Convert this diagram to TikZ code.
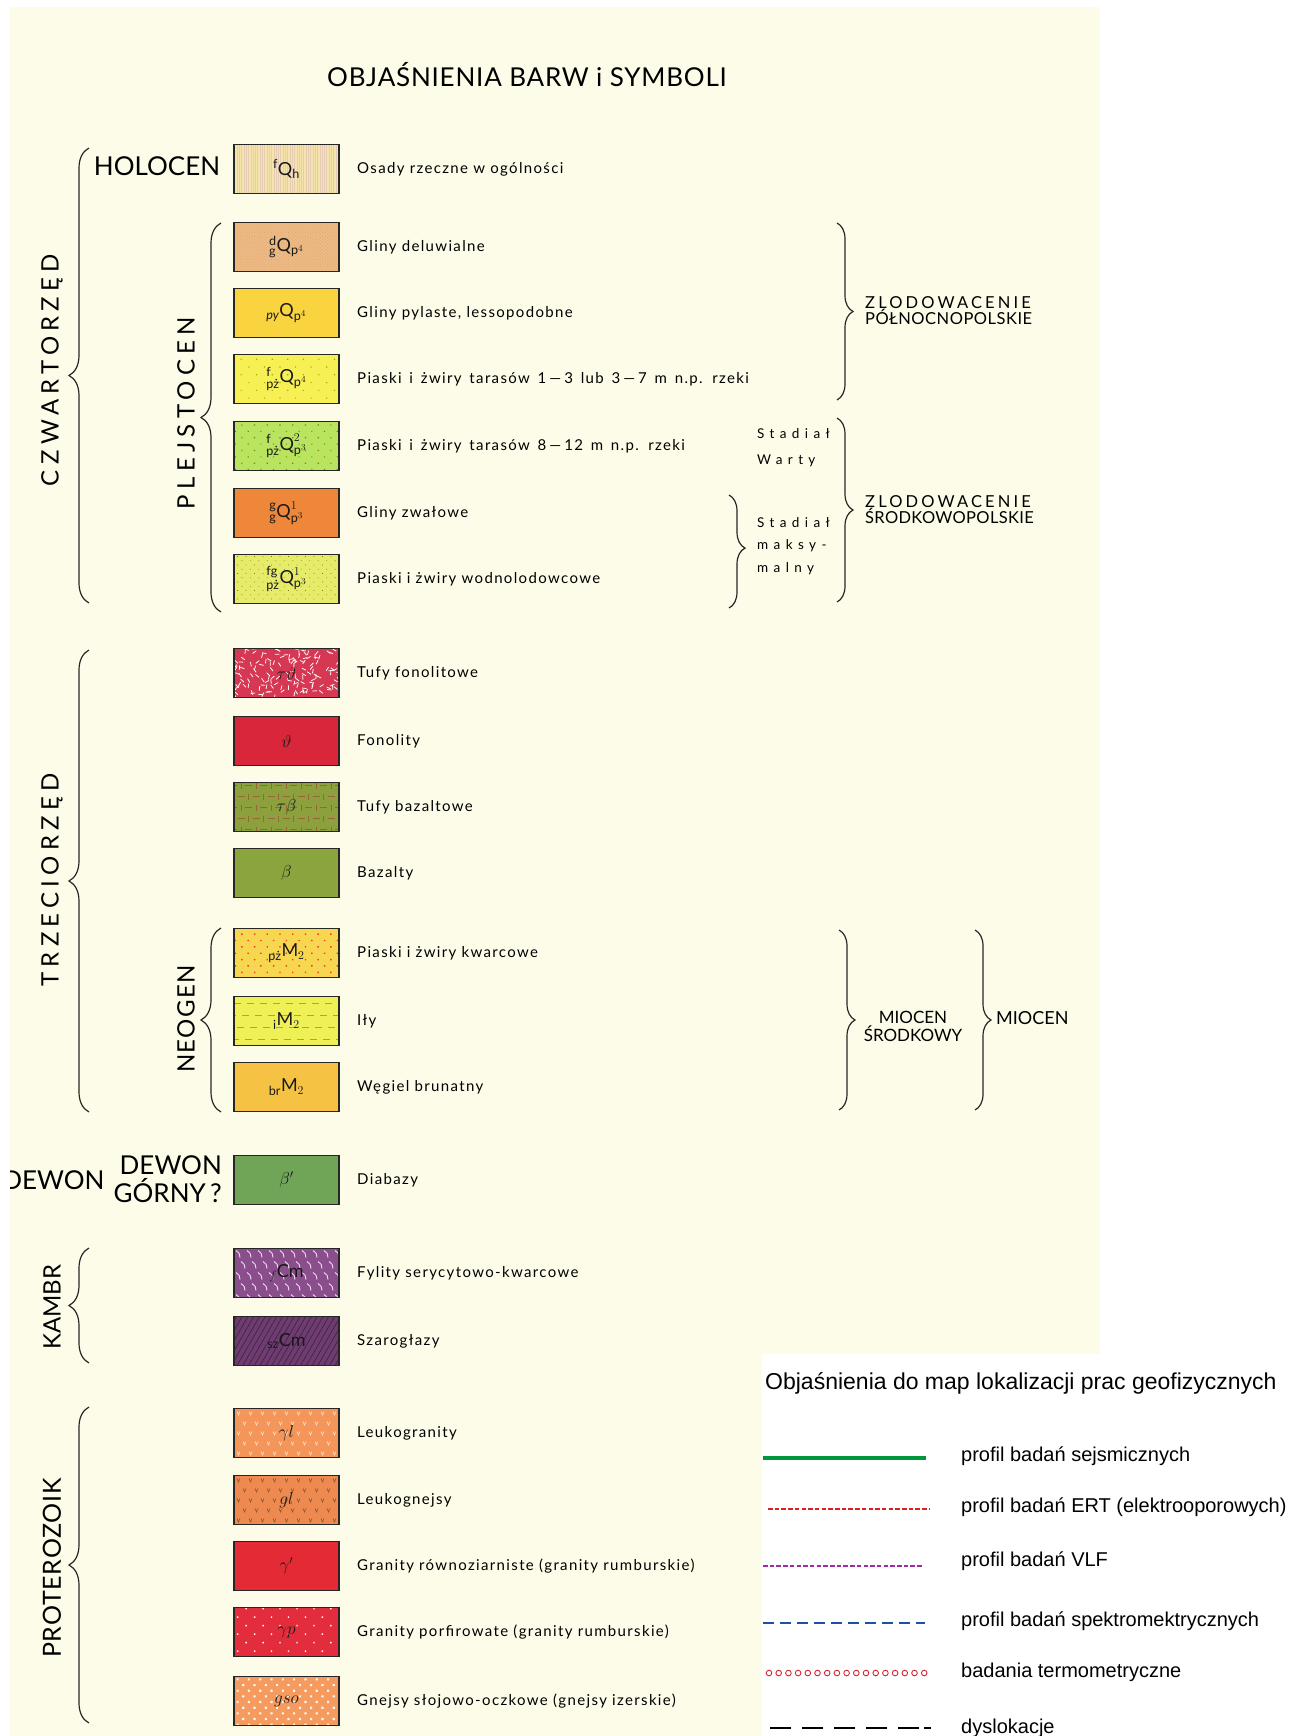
\documentclass[tikz,border=0pt]{standalone}
\usepackage{amsmath}
\usepackage{fontspec}
\setmainfont{Lato}
\newfontfamily\capsfont[LetterSpace=22]{Lato}
\newfontfamily\descfont[LetterSpace=9]{Lato}
\newfontfamily\glacfont[LetterSpace=19]{Lato}
\newfontfamily\stadfont[LetterSpace=40]{Lato}
\newfontfamily\arialfont{Liberation Sans}
\usetikzlibrary{decorations.pathreplacing,patterns.meta}

\definecolor{cream}{RGB}{253,252,232}
\definecolor{holo}{RGB}{245,228,172}
\definecolor{delu}{RGB}{238,185,130}
\definecolor{pyla}{RGB}{250,212,62}
\definecolor{tarA}{RGB}{247,240,85}
\definecolor{tarB}{RGB}{185,228,95}
\definecolor{zwal}{RGB}{238,135,58}
\definecolor{wodn}{RGB}{230,236,105}
\definecolor{tufo}{RGB}{214,55,82}
\definecolor{fono}{RGB}{218,38,58}
\definecolor{tuba}{RGB}{140,160,62}
\definecolor{baza}{RGB}{138,165,62}
\definecolor{kwar}{RGB}{248,215,80}
\definecolor{ily}{RGB}{238,240,85}
\definecolor{wegl}{RGB}{246,194,68}
\definecolor{diab}{RGB}{112,165,88}
\definecolor{fyli}{RGB}{138,78,140}
\definecolor{szar}{RGB}{110,60,112}
\definecolor{leug}{RGB}{244,150,90}
\definecolor{leun}{RGB}{238,138,80}
\definecolor{grar}{RGB}{228,42,52}
\definecolor{grap}{RGB}{228,45,60}
\definecolor{gnej}{RGB}{246,155,95}
\definecolor{seis}{RGB}{0,150,60}
\definecolor{ert}{RGB}{225,30,30}
\definecolor{vlf}{RGB}{160,40,170}
\definecolor{spek}{RGB}{30,80,170}
\definecolor{term}{RGB}{215,40,50}

\tikzset{
  swatch/.style={draw=black!85,line width=1.1pt,minimum width=105pt,minimum height=49pt,
    inner sep=0pt,text=black!90,font=\fontsize{18}{18}\selectfont},
  desc/.style={anchor=west,inner sep=0pt,font=\descfont\fontsize{15}{18}\selectfont},
  era/.style={rotate=90,inner sep=0pt,font=\capsfont\fontsize{24}{24}\selectfont},
  curly/.style={decorate,decoration={brace,amplitude=#1},line width=1.2pt,draw=black!85},
  legtext/.style={anchor=west,inner sep=0pt,font=\arialfont\fontsize{20}{20}\selectfont},
  % patterns of the swatches
  finelines/.style={pattern={Lines[angle=90,distance=2.3pt,line width=0.4pt]},pattern color=#1},
  dotgrid/.style args={#1/#2/#3}{pattern={Dots[distance=#1,radius=#2,angle=45]},pattern color=#3},
  difflines/.style={pattern={Lines[angle=60,distance=5pt,line width=0.6pt]},pattern color=#1},
  tuffpat/.style={path picture={
    \coordinate (pp) at (path picture bounding box.north west);
    \pgfmathsetseed{11}
    \foreach \i in {1,...,150}{
      \pgfmathsetmacro{\px}{rnd*108}
      \pgfmathsetmacro{\py}{rnd*52}
      \pgfmathsetmacro{\pa}{rnd*180}
      \draw[#1,line width=0.8pt] ([shift={(\px,\py)}]pp) -- ++(\pa:4.5);}}},
  basaltpat/.style={path picture={
    \coordinate (pp) at (path picture bounding box.north west);
    \foreach \r in {0,...,4}{\foreach \c in {0,...,7}{
      \pgfmathsetmacro{\xx}{\c*15+mod(\r,2)*7.5-4}
      \draw[#1,line width=0.8pt] ([shift={(\xx,\r*11+3)}]pp) -- ++(7,0);
      \draw[#1,line width=0.8pt] ([shift={(\xx+11,\r*11)}]pp) -- ++(0,6);}}}},
  claypat/.style={path picture={
    \coordinate (pp) at (path picture bounding box.north west);
    \foreach \r in {0,...,3}
      \draw[#1,line width=0.6pt,dash pattern=on 7pt off 6pt] ([shift={(-\r*5,\r*12+7)}]pp) -- ++(120,0);}},
  phylpat/.style={path picture={
    \coordinate (pp) at (path picture bounding box.north west);
    \foreach \r in {0,...,4}{\foreach \c in {0,...,9}{
      \draw[#1,line width=0.9pt] ([shift={({\c*11+2+mod(\r,2)*5},{\r*11+2})}]pp) to[bend left=35] ++(4,7);}}}},
  vpat/.style={path picture={
    \coordinate (pp) at (path picture bounding box.north west);
    \foreach \r in {0,...,4}{\foreach \c in {0,...,8}{
      \draw[#1,line width=0.6pt] ([shift={({\c*12+3+mod(\r,2)*6},{\r*10+3})}]pp) -- ++(1.5,3.5) -- ++(1.5,-3.5);}}}}
}

% one row of the legend: name, y, looks, symbol, text
\newcommand{\layer}[5]{%
  \node[swatch,#3] (#1) at (286.5,#2) {#4};
  \node[desc] (#1d) at (357,#2) {#5};}
\newcommand{\dsh}{\hspace{3pt}—\hspace{3pt}}
\newcommand{\wide}{\spaceskip=7.8pt plus 1pt\relax}

\begin{document}
\begin{tikzpicture}[x=1pt,y=-1pt]
\useasboundingbox (0,0) rectangle (1300,1736);
\fill[white] (0,0) rectangle (1300,1736);
\fill[cream] (10,7) rectangle (1100,1736);

\node[font=\fontsize{26}{26}\selectfont\addfontfeature{LetterSpace=3}] (title) at (527,75) {OBJAŚNIENIA BARW i SYMBOLI};

% czwartorzed
\layer{s1}{169}{preaction={fill=holo},finelines=brown!40}{${}^{\text{f}}\text{Q}_{\text{h}}$}{Osady rzeczne w ogólności}
\layer{s2}{247}{preaction={fill=delu},dotgrid=2.4pt/0.5pt/brown!70}{${}^{\text{d}}_{\text{g}}\text{Q}_{\text{p}^4}$}{Gliny deluwialne}
\layer{s3}{313}{fill=pyla}{${}_{\textit{py}}\text{Q}_{\text{p}^4}$}{Gliny pylaste, lessopodobne}
\layer{s4}{379}{preaction={fill=tarA},dotgrid=11pt/0.8pt/olive!70}{${}^{\text{f}}_{\text{pż}}\text{Q}_{\text{p}^4}$}{\wide Piaski i żwiry tarasów 1\dsh3 lub 3\dsh7 m n.p. rzeki}
\layer{s5}{446}{preaction={fill=tarB},dotgrid=9pt/0.8pt/olive}{${}^{\text{f}}_{\text{pż}}\text{Q}^{2}_{\text{p}^3}$}{\wide Piaski i żwiry tarasów 8\dsh12 m n.p. rzeki}
\layer{s6}{513}{fill=zwal}{${}^{\text{g}}_{\text{g}}\text{Q}^{1}_{\text{p}^3}$}{Gliny zwałowe}
\layer{s7}{579}{preaction={fill=wodn},dotgrid=6pt/0.6pt/olive}{${}^{\text{fg}}_{\text{pż}}\text{Q}^{1}_{\text{p}^3}$}{Piaski i żwiry wodnolodowcowe}

% trzeciorzed
\layer{s8}{673}{fill=tufo,tuffpat=white!85!pink}{$\tau\vartheta$}{Tufy fonolitowe}
\layer{s9}{741}{fill=fono}{$\vartheta$}{Fonolity}
\layer{s10}{807}{fill=tuba,basaltpat={brown!80!black}}{$\tau\beta$}{Tufy bazaltowe}
\layer{s11}{873}{fill=baza}{$\beta$}{Bazalty}
\layer{s12}{953}{preaction={fill=kwar},dotgrid=9pt/1pt/red!80}{${}_{\text{pż}}\text{M}_2$}{Piaski i żwiry kwarcowe}
\layer{s13}{1021}{fill=ily,claypat={green!50!black!55}}{${}_{\text{i}}\text{M}_2$}{Iły}
\layer{s14}{1087}{fill=wegl}{${}_{\text{br}}\text{M}_2$}{Węgiel brunatny}

% starsze
\layer{s15}{1180}{fill=diab}{$\beta'$}{Diabazy}
\layer{s16}{1273}{fill=fyli,phylpat=white!85!violet}{${}_{f}\text{Cm}$}{Fylity serycytowo-kwarcowe}
\layer{s17}{1341}{preaction={fill=szar},difflines=black!45!szar}{${}_{\text{sz}}\text{Cm}$}{Szarogłazy}
\layer{s18}{1433}{fill=leug,vpat=white!70!leug}{$\gamma l$}{Leukogranity}
\layer{s19}{1500}{fill=leun,vpat=brown!70!black}{$gl$}{Leukognejsy}
\layer{s20}{1566}{fill=grar}{$\gamma'$}{Granity równoziarniste (granity rumburskie)}
\layer{s21}{1632}{preaction={fill=grap},dotgrid=12pt/1pt/white}{$\gamma p$}{Granity porfirowate (granity rumburskie)}
\layer{s22}{1701}{preaction={fill=gnej},dotgrid=8pt/1.5pt/white!90!gnej}{$gso$}{Gnejsy słojowo-oczkowe (gnejsy izerskie)}

% left labels and braces
\node[font=\fontsize{26}{26}\selectfont] (holo) at (157,166) {HOLOCEN};
\node[era] (czw) at (52,370) {CZWARTORZĘD};
\draw[curly=20pt] (89,603) -- (89,148);
\node[era] (plej) at (186,413) {PLEJSTOCEN};
\draw[curly=20pt] (221,612) -- (221,223);
\node[era] (trz) at (52,880) {TRZECIORZĘD};
\draw[curly=20pt] (89,1112) -- (89,650);
\node[era,font=\capsfont\fontsize{24}{24}\selectfont\addfontfeature{LetterSpace=6}] (neo) at (186,1019) {NEOGEN};
\draw[curly=20pt] (221,1112) -- (221,928);
\node[font=\fontsize{26}{26}\selectfont,anchor=east] (dew) at (108,1180) {DEWON};
\node[font=\fontsize{26}{28}\selectfont,align=right,anchor=east,inner sep=0pt] (dewg) at (222,1179) {DEWON\\GÓRNY\,?};
\node[era,font=\fontsize{24}{24}\selectfont] (kam) at (52,1307) {KAMBR};
\draw[curly=20pt] (89,1363) -- (89,1248);
\node[era,font=\fontsize{25}{25}\selectfont\addfontfeature{LetterSpace=3}] (prot) at (52,1568) {PROTEROZOIK};
\draw[curly=20pt] (89,1723) -- (89,1407);

% right labels and braces
\draw[curly=16pt] (837,223) -- (837,400);
\node[anchor=west,align=left,inner sep=0pt,font=\fontsize{16.5}{16}\selectfont] (zpn) at (865,311) {{\glacfont ZLODOWACENIE}\\{\addfontfeature{LetterSpace=3}PÓŁNOCNOPOLSKIE}};
\draw[curly=16pt] (837,418) -- (837,602);
\node[anchor=west,align=left,inner sep=0pt,font=\fontsize{16.5}{16}\selectfont] (zsr) at (865,510) {{\glacfont ZLODOWACENIE}\\{\addfontfeature{LetterSpace=2}ŚRODKOWOPOLSKIE}};
\node[anchor=west,align=left,inner sep=0pt,font=\stadfont\fontsize{13.5}{26}\selectfont] (war) at (757,448) {Stadiał\\Warty};
\draw[curly=16pt,decoration={aspect=0.47}] (729,495) -- (729,608);
\node[anchor=west,align=left,inner sep=0pt,font=\stadfont\fontsize{13.5}{22.5}\selectfont] (mak) at (757,546) {Stadiał\\maksy-\\malny};
\draw[curly=16pt] (839,930) -- (839,1110);
\node[align=center,font=\fontsize{17}{18}\selectfont] (mio) at (913,1026) {MIOCEN\\ŚRODKOWY};
\draw[curly=16pt] (975,930) -- (975,1110);
\node[anchor=west,inner sep=0pt,font=\fontsize{18}{18}\selectfont] (mioc) at (996,1018) {MIOCEN};

% legend of the geophysical maps
\fill[white] (762,1354) rectangle (1300,1736);
\node[anchor=west,inner sep=0pt,font=\arialfont\fontsize{23}{23}\selectfont] (ltit) at (765,1383) {Objaśnienia do map lokalizacji prac geofizycznych};
\draw[seis,line width=3.5pt] (763,1458) -- (926,1458);
\node[legtext] (l1) at (961,1456) {profil badań sejsmicznych};
\draw[ert,line width=2pt,dash pattern=on 4.5pt off 2.2pt] (768,1509) -- (929,1509);
\node[legtext] (l2) at (961,1507) {profil badań ERT (elektrooporowych)};
\draw[vlf,line width=2pt,dash pattern=on 4.5pt off 2.2pt] (763,1566) -- (923,1566);
\node[legtext] (l3) at (961,1561) {profil badań VLF};
\draw[spek,line width=2.5pt,dash pattern=on 11pt off 6pt] (763,1623) -- (925,1623);
\node[legtext] (l4) at (961,1621) {profil badań spektromektrycznych};
\foreach \i in {0,...,16}
  \draw[term,line width=0.9pt] (769+\i*9.7,1673) circle[radius=2.8pt];
\node[legtext] (l5) at (961,1672) {badania termometryczne};
\draw[black,line width=2.5pt,dash pattern=on 21pt off 11pt on 21pt off 11pt on 21pt off 11pt on 21pt off 11pt on 21pt off 5pt on 7pt off 100pt] (770,1728) -- (931,1728);
\node[legtext] (l6) at (961,1728) {dyslokacje};

\fill[white] (0,0) rectangle (10,1736);
\end{tikzpicture}
\end{document}
